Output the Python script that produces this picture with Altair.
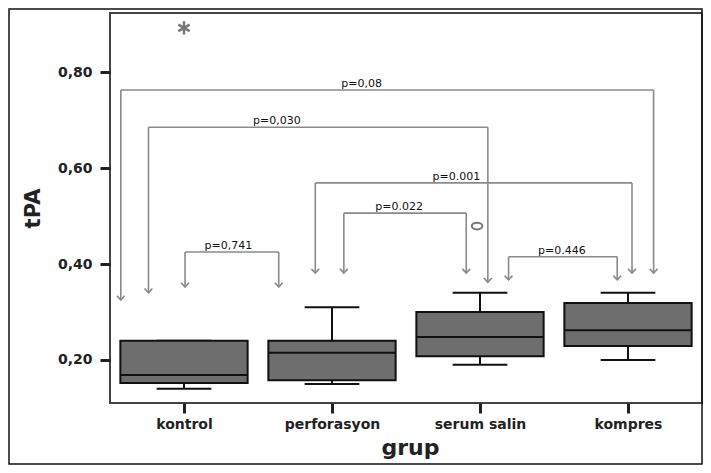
import altair as alt
import pandas as pd

# ---- data ----
groups = ["kontrol", "perforasyon", "serum salin", "kompres"]
q1 = [0.152, 0.158, 0.208, 0.229]
q3 = [0.240, 0.240, 0.300, 0.319]
median = [0.169, 0.215, 0.248, 0.262]
lower = [0.140, 0.150, 0.190, 0.200]
upper = [0.240, 0.310, 0.340, 0.340]

# outliers
out_star_group = [0]
out_star_value = [0.892]
out_circle_group = [2]
out_circle_value = [0.479]

# significance brackets
p_labels = ["p=0,08", "p=0,030", "p=0.001", "p=0.022", "p=0,741", "p=0.446"]
bracket_top = [0.7625, 0.685, 0.569, 0.506, 0.425, 0.415]
left_x = [0.073, 0.26, 1.387, 1.58, 0.507, 2.693]
right_x = [3.673, 2.553, 3.527, 2.407, 1.14, 3.427]
left_tip = [0.325, 0.34, 0.381, 0.381, 0.352, 0.367]
right_tip = [0.381, 0.362, 0.381, 0.381, 0.352, 0.367]
label_x = [1.70, 1.127, 2.34, 1.953, 0.80, 3.053]

y_ticks = [0.2, 0.4, 0.6, 0.8]

# ---- tables ----
HALF_BOX = 0.43
HALF_CAP = 0.185
boxes = pd.DataFrame({
    "grup": groups,
    "c": [i + 0.5 for i in range(len(groups))],
    "q1": q1, "q3": q3, "median": median, "lower": lower, "upper": upper,
})
boxes["lo"] = boxes["c"] - HALF_BOX
boxes["hi"] = boxes["c"] + HALF_BOX
boxes["clo"] = boxes["c"] - HALF_CAP
boxes["chi"] = boxes["c"] + HALF_CAP

brackets = pd.DataFrame({
    "label": p_labels, "top": bracket_top, "lx": left_x, "rx": right_x, "tx": label_x,
})
legs = pd.DataFrame({
    "x": left_x + right_x,
    "top": bracket_top + bracket_top,
    "tip": left_tip + right_tip,
})
stars = pd.DataFrame({"x": [g + 0.5 for g in out_star_group], "v": out_star_value})
circles = pd.DataFrame({"x": [g + 0.48 for g in out_circle_group], "v": out_circle_value})
frame = pd.DataFrame({"k": [0]})

W, H = 592, 390
xs = alt.Scale(domain=[0, 4], nice=False, zero=False)
ys = alt.Scale(domain=[0.1104, 0.923], nice=False, zero=False)

label_expr = "[" + ",".join("'%s'" % g for g in groups) + "][floor(datum.value)]"

FONT = "DejaVu Sans"
GRAY = "#8a8a8a"

x_axis = alt.Axis(values=[i + 0.5 for i in range(len(groups))], labelExpr=label_expr,
                  title="grup", grid=False, domain=False, ticks=True, tickSize=10,
                  tickWidth=3, tickColor="#222", labelFont=FONT, labelFontWeight="bold",
                  labelFontSize=14, labelColor="#222", labelPadding=4,
                  titleFont=FONT, titleFontWeight="bold", titleFontSize=22,
                  titleColor="#222", titleY=44, titleX=300, titleBaseline="middle")
y_axis = alt.Axis(values=y_ticks, labelExpr="replace(format(datum.value, '.2f'), '.', ',')",
                  title="tPA", grid=False, domain=False, ticks=True, tickSize=10,
                  tickWidth=3, tickColor="#222", labelFont=FONT, labelFontWeight="bold",
                  labelFontSize=14, labelColor="#222", labelPadding=8,
                  titleFont=FONT, titleFontWeight="bold", titleFontSize=21,
                  titleColor="#222", titleX=-77, titleY=195, titleAngle=270,
                  titleBaseline="middle", titleAlign="center")


def X(field):
    return alt.X(field, scale=xs, axis=x_axis)


def Y(field):
    return alt.Y(field, scale=ys, axis=y_axis)


base_box = alt.Chart(boxes)
BLACK = "#111"

whisk_low = base_box.mark_rule(color=BLACK, strokeWidth=2).encode(
    x=X("c:Q"), y=Y("lower:Q"), y2="q1:Q",
)
whisk_up = base_box.mark_rule(color=BLACK, strokeWidth=2).encode(
    x=X("c:Q"), y=Y("q3:Q"), y2="upper:Q",
)
cap_low = base_box.mark_rule(color=BLACK, strokeWidth=2).encode(
    x=X("clo:Q"), x2="chi:Q", y=Y("lower:Q"),
)
cap_up = base_box.mark_rule(color=BLACK, strokeWidth=2).encode(
    x=X("clo:Q"), x2="chi:Q", y=Y("upper:Q"),
)
box = base_box.mark_rect(fill="#6e6e6e", stroke=BLACK, strokeWidth=2).encode(
    x=X("lo:Q"), x2="hi:Q", y=Y("q1:Q"), y2="q3:Q",
)
med = base_box.mark_rule(color=BLACK, strokeWidth=2).encode(
    x=X("lo:Q"), x2="hi:Q", y=Y("median:Q"),
)

hbar = alt.Chart(brackets).mark_rule(color=GRAY, strokeWidth=1.6).encode(
    x=X("lx:Q"), x2="rx:Q", y=Y("top:Q"),
)
leg = alt.Chart(legs).mark_rule(color=GRAY, strokeWidth=1.6).encode(
    x=X("x:Q"), y=Y("top:Q"), y2="tip:Q",
)
arrow = alt.Chart(legs).mark_point(
    shape="M-1,-1.1L0,0L1,-1.1", filled=False, stroke=GRAY, strokeWidth=1.6, size=60, opacity=1
).encode(
    x=X("x:Q"), y=Y("tip:Q"),
)
ptext = alt.Chart(brackets).mark_text(
    font=FONT, fontSize=11, color="#111", baseline="bottom", dy=-1
).encode(
    x=X("tx:Q"), y=Y("top:Q"), text="label:N",
)
star = alt.Chart(stars).mark_point(
    shape="M0,-1L0,1M-0.87,-0.5L0.87,0.5M-0.87,0.5L0.87,-0.5",
    filled=False, stroke="#777", strokeWidth=2.5, size=170, opacity=1
).encode(
    x=X("x:Q"), y=Y("v:Q"),
)
circ = alt.Chart(circles).mark_point(
    shape="M-1,0A1,0.65 0 1,0 1,0A1,0.65 0 1,0 -1,0Z",
    filled=False, stroke="#777", strokeWidth=2, size=110, opacity=1
).encode(
    x=X("x:Q"), y=Y("v:Q"),
)
outer = alt.Chart(frame).mark_rect(fill=None, stroke=BLACK, strokeWidth=1.5).encode(
    x=alt.value(-101), x2=alt.value(W), y=alt.value(-4), y2=alt.value(451),
)

chart = alt.layer(
    whisk_low, whisk_up, cap_low, cap_up, box, med,
    hbar, leg, arrow, ptext, star, circ, outer,
).properties(
    width=W, height=H,
    autosize=alt.AutoSizeParams(type="none"),
    padding={"left": 102, "top": 5, "right": 1, "bottom": 62},
    background="white",
).configure_view(
    stroke="#444", strokeWidth=2
)

chart.save("out.html", embed_options={"renderer": "svg", "actions": False})
